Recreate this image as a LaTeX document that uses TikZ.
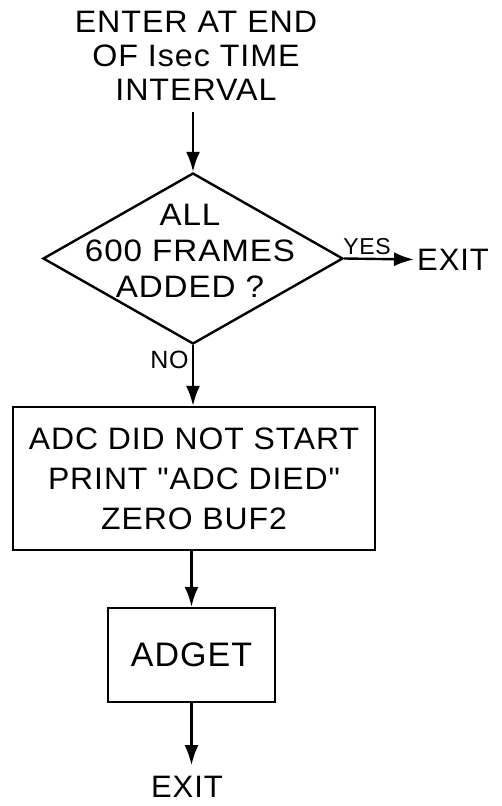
\documentclass[tikz,border=0pt]{standalone}
\usepackage{fontspec}
\setmainfont{Liberation Sans}[LetterSpace=3,Ligatures=TeXOff]
\usetikzlibrary{shapes.geometric,arrows.meta}
\begin{document}
\begin{tikzpicture}[x=1pt,y=-1pt,line width=2.4pt,
  arr/.style={-{Latex[length=20pt,width=14pt]}},
  txt/.style={font=\fontsize{31}{34}\selectfont,align=center},
  box/.style={draw,rectangle,inner sep=0pt}]
\useasboundingbox (0,0) rectangle (502,806);

% entry text
\node[txt,font=\fontsize{31}{34}\selectfont\addfontfeature{FakeStretch=1.04},
  inner xsep=0pt,inner ysep=10pt] (enter) at (196,56)
  {ENTER AT END\\OF Isec TIME\\INTERVAL};

% decision
\node[draw,diamond,minimum width=300pt,minimum height=171pt,inner sep=0pt]
  (dec) at (193,258.5) {};
\node[txt,font=\fontsize{31}{36}\selectfont\addfontfeature{FakeStretch=1.07}]
  (dectext) at (190,251) {ALL\\600 FRAMES\\ADDED ?};
\node[font=\fontsize{23}{23}\selectfont,anchor=base,inner sep=0pt] (yes)
  at (367,254) {YES};
\node[font=\fontsize{31}{31}\selectfont,anchor=west,inner sep=2pt] (exitr)
  at (414,259.5) {EXIT};
\node[font=\fontsize{25}{25}\selectfont,inner sep=0pt] (no) at (169.5,360) {NO};

% process boxes
\node[box,txt,font=\fontsize{31}{40}\selectfont\addfontfeature{FakeStretch=1.03},
  minimum width=362pt,minimum height=143pt] (b1) at (194,478.5)
  {ADC DID NOT START\\PRINT "ADC DIED"\\ZERO BUF2};
\node[box,font=\fontsize{34}{34}\selectfont,
  minimum width=167pt,minimum height=94pt] (b2) at (191.5,655) {ADGET};

% final exit
\node[font=\fontsize{31}{31}\selectfont,inner sep=10pt] (exitb) at (187,787) {EXIT};

% connectors
\draw[arr] (enter.south -| dec.north) -- (dec.north);
\draw[arr] (dec.east) -- (exitr.west);
\draw[arr] (dec.south) -- (dec.south |- b1.north);
\draw[arr] (b1.south -| b2.north) -- (b2.north);
\draw[arr] (b2.south) -- (b2.south |- exitb.north);
\end{tikzpicture}
\end{document}
